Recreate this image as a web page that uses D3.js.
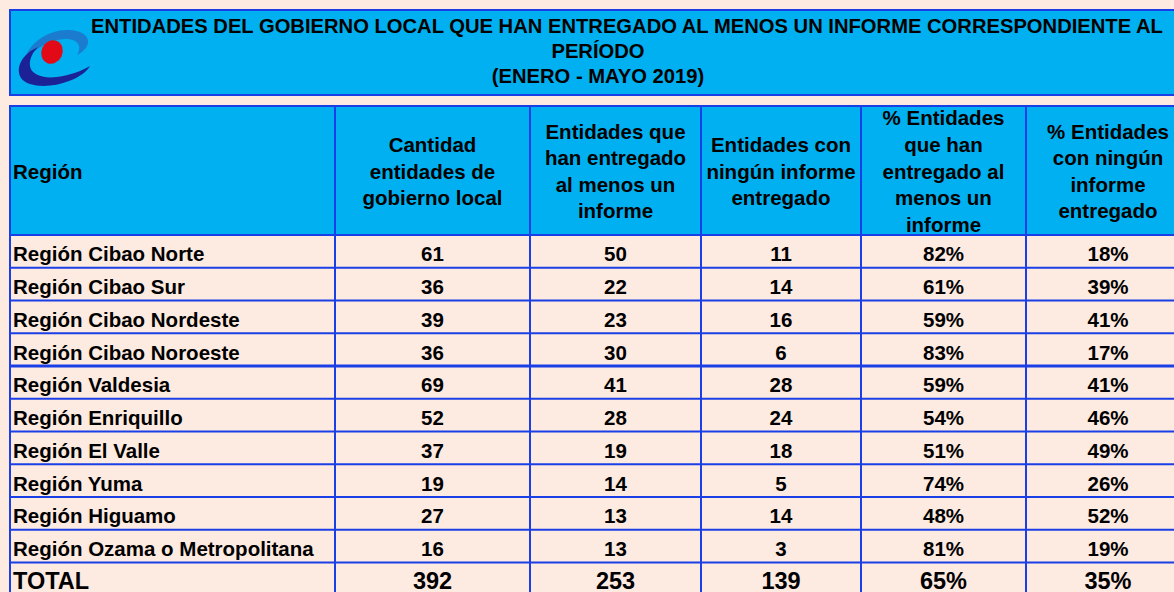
<!DOCTYPE html>
<html>
<head>
<meta charset="utf-8">
<script src="https://cdn.jsdelivr.net/npm/d3@7"></script>
<style>
  html, body { margin: 0; padding: 0; background: #FDEAE0; }
  svg { display: block; }
  text { font-family: "Liberation Sans", Arial, sans-serif; font-weight: bold; fill: #000; }
</style>
</head>
<body>
<svg id="chart" width="1174" height="592"></svg>
<script>
// ---- Data ----
const titleLines = [
  "ENTIDADES DEL GOBIERNO LOCAL QUE HAN ENTREGADO AL MENOS UN INFORME CORRESPONDIENTE AL",
  "PERÍODO",
  "(ENERO - MAYO 2019)"
];
const headers = [
  ["Región"],
  ["Cantidad", "entidades de", "gobierno local"],
  ["Entidades que", "han entregado", "al menos un", "informe"],
  ["Entidades con", "ningún informe", "entregado"],
  ["% Entidades", "que han", "entregado al", "menos un", "informe"],
  ["% Entidades", "con ningún", "informe", "entregado"]
];
const regions = [
  "Región Cibao Norte", "Región Cibao Sur", "Región Cibao Nordeste", "Región Cibao Noroeste",
  "Región Valdesia", "Región Enriquillo", "Región El Valle", "Región Yuma",
  "Región Higuamo", "Región Ozama o Metropolitana"
];
const cantidad     = [61, 36, 39, 36, 69, 52, 37, 19, 27, 16];
const entregado    = [50, 22, 23, 30, 41, 28, 19, 14, 13, 13];
const ninguno      = [11, 14, 16, 6, 28, 24, 18, 5, 14, 3];
const pctEntregado = [82, 61, 59, 83, 59, 54, 51, 74, 48, 81];
const pctNinguno   = [18, 39, 41, 17, 41, 46, 49, 26, 52, 19];
const totalLabel   = "TOTAL";
const totalValues  = [392, 253, 139, 65, 35];
const percentCols  = [false, false, false, true, true];

// ---- Layout ----
const colEdges = [10, 335, 530, 701, 861, 1026, 1190];
const BLUE = "#00B0F0", BORDER = "#1B3FE6", PEACH = "#FDEAE0";
const svg = d3.select("#chart");

const nRows = regions.length + 1;
const y = d3.scaleBand().domain(d3.range(nRows)).range([235, 235 + nRows * 32.75]).padding(0);
const colMid = i => (colEdges[i] + colEdges[i + 1]) / 2;

svg.append("rect").attr("width", 1174).attr("height", 592).attr("fill", PEACH);

// title box
svg.append("rect").attr("x", 10).attr("y", 10).attr("width", 1180).attr("height", 85).attr("fill", BLUE);
// header box
svg.append("rect").attr("x", 10).attr("y", 106).attr("width", 1180).attr("height", 129).attr("fill", BLUE);

// logo
const logo = svg.append("g");
logo.append("path").attr("fill", "#1B7BCF")
  .attr("d", "M24,62 C28,42 50,29 70,30 C84,31 91,38 87,46 C85,50 81,53 77,55 C82,47 79,40 68,39 C52,38 36,47 24,62 Z");
logo.append("path").attr("fill", "#1C2296")
  .attr("d", "M38,47 C22,54 15,68 21,78 C28,88 52,88 69,81 C80,77 87,71 90,66 C82,71 70,75 57,77 C42,79 31,74 30,66 C29,59 33,52 38,47 Z");
logo.append("ellipse").attr("cx", 52).attr("cy", 52).attr("rx", 10.5).attr("ry", 12)
  .attr("transform", "rotate(25,52,52)").attr("fill", "#E30A17");

// title text
const titleCenters = [627, 598, 598];
svg.append("g").selectAll("text").data(titleLines).join("text")
  .attr("x", (d, i) => titleCenters[i])
  .attr("y", (d, i) => 33 + i * 25)
  .attr("text-anchor", "middle")
  .attr("font-size", 20.2)
  .text(d => d);

// header text
const lh = 26.6;
const hg = svg.append("g");
headers.forEach((lines, c) => {
  const n = lines.length;
  const cy = 171;
  hg.selectAll(null).data(lines).join("text")
    .attr("x", c === 0 ? 13 : colMid(c))
    .attr("y", (d, i) => cy + (i - (n - 1) / 2) * lh + 7.5)
    .attr("text-anchor", c === 0 ? "start" : "middle")
    .attr("font-size", 20.5)
    .text(d => d);
});

// body rows
const rows = regions.map((r, i) => ({
  label: r,
  values: [cantidad[i], entregado[i], ninguno[i], pctEntregado[i], pctNinguno[i]],
  total: false
}));
rows.push({ label: totalLabel, values: totalValues, total: true });

const body = svg.append("g");
rows.forEach((row, ri) => {
  const base = y(ri) + y.bandwidth() - (row.total ? 6 : 6.5);
  const fs = row.total ? 23.5 : 20.5;
  body.append("text").attr("x", 13).attr("y", base).attr("font-size", fs).text(row.label);
  row.values.forEach((v, ci) => {
    body.append("text")
      .attr("x", colMid(ci + 1)).attr("y", base)
      .attr("text-anchor", "middle").attr("font-size", fs)
      .text(percentCols[ci] ? v + "%" : v);
  });
});

// borders
const lines = svg.append("g").attr("stroke", BORDER).attr("stroke-width", 2).attr("fill", "none");
[10, 95, 106].forEach(yy => lines.append("line").attr("x1", 9).attr("x2", 1190).attr("y1", yy).attr("y2", yy));
lines.append("line").attr("x1", 10).attr("x2", 10).attr("y1", 9).attr("y2", 96);
d3.range(nRows + 1).forEach(i => {
  const yy = i < nRows ? y(i) : y(nRows - 1) + y.bandwidth();
  lines.append("line").attr("x1", 9).attr("x2", 1190).attr("y1", yy).attr("y2", yy)
    .attr("stroke-width", i === 4 ? 3 : 2);
});
colEdges.forEach(xx => lines.append("line").attr("x1", xx).attr("x2", xx).attr("y1", 105).attr("y2", 600));
</script>
</body>
</html>
